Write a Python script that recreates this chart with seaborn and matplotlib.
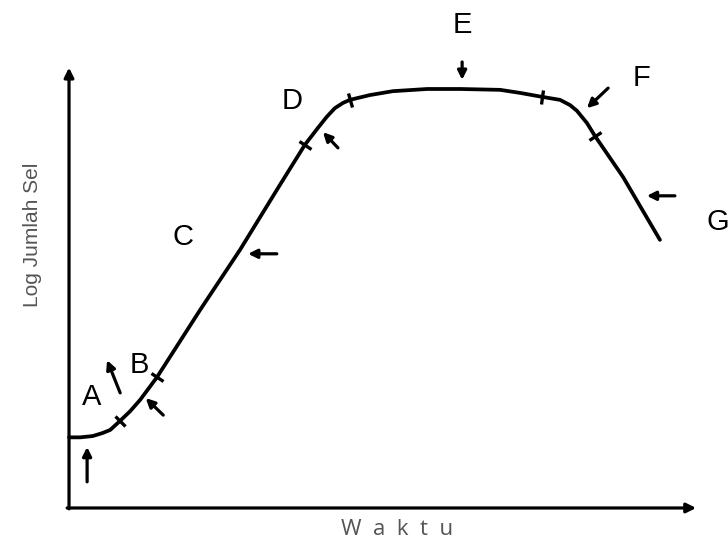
import numpy as np
import pandas as pd
import matplotlib
matplotlib.use("Agg")
import matplotlib.pyplot as plt
import seaborn as sns
from matplotlib.markers import MarkerStyle
from matplotlib.transforms import Affine2D

# ---- data (arbitrary units: time 0..10, log cell count 0..10) ----
waktu = [0.00, 0.18, 0.38, 0.54, 0.66, 0.82, 0.98, 1.14, 1.27, 1.41, 2.10, 2.74,
         3.38, 3.78, 3.99, 4.13, 4.26, 4.39, 4.50, 4.82, 5.19, 5.74, 6.27, 6.91,
         7.23, 7.58, 7.87, 8.03, 8.14, 8.30, 8.43, 8.88, 9.15, 9.47]
log_sel = [1.62, 1.62, 1.65, 1.72, 1.79, 2.00, 2.22, 2.48, 2.73, 3.00, 4.54, 5.92,
           7.41, 8.33, 8.72, 8.97, 9.17, 9.29, 9.36, 9.47, 9.56, 9.61, 9.61, 9.59,
           9.52, 9.43, 9.36, 9.24, 9.11, 8.83, 8.53, 7.59, 6.93, 6.15]
# indices of the points marked with small ticks on the curve
tick_idx = [5, 9, 13, 18, 25, 30]

phase_labels = ["A", "B", "C", "D", "E", "F", "G"]
label_x = [0.37, 1.12, 1.83, 3.57, 6.31, 9.17, 10.40]
label_y = [2.55, 3.28, 6.22, 9.33, 11.08, 9.86, 6.56]

# arrows: (tail_x, tail_y, head_x, head_y)
arrow_tail_x = [0.29, 0.82, 1.51, 3.33, 4.31, 6.30, 8.64, 9.71]
arrow_tail_y = [0.60, 2.64, 2.13, 5.83, 8.26, 10.23, 9.63, 7.16]
arrow_head_x = [0.29, 0.61, 1.23, 2.87, 4.07, 6.30, 8.30, 9.26]
arrow_head_y = [1.40, 3.39, 2.52, 5.83, 8.62, 9.82, 9.17, 7.16]

x_label = "W  a  k  t  u"
y_label = "Log Jumlah Sel"

df = pd.DataFrame({"Waktu": waktu, "LogSel": log_sel})

sns.set_style("white")
fig = plt.figure(figsize=(7.28, 5.45), dpi=100)
ax = fig.add_axes([0, 0, 1, 1])
ax.set_xlim(-1.106, 10.561)
ax.set_ylim(-0.849, 11.651)
ax.axis("off")

sns.lineplot(data=df, x="Waktu", y="LogSel", ax=ax, color="black", lw=2.7,
             sort=False, estimator=None, solid_capstyle="round", solid_joinstyle="round")

# axes with arrows
ax.annotate("", xy=(0, 10.1), xytext=(0, -0.02),
            arrowprops=dict(arrowstyle="-|>", color="black", lw=2.3, mutation_scale=14,
                            shrinkA=0, shrinkB=0))
ax.annotate("", xy=(10.05, 0), xytext=(-0.03, 0),
            arrowprops=dict(arrowstyle="-|>", color="black", lw=2.3, mutation_scale=14,
                            shrinkA=0, shrinkB=0))

# small perpendicular ticks on the curve
fig.canvas.draw()
disp = ax.transData.transform(np.column_stack([waktu, log_sel]))
for i in tick_idx:
    d = disp[i + 1] - disp[i - 1]
    ang = np.degrees(np.arctan2(d[1], d[0]))
    m = MarkerStyle("|", transform=Affine2D().rotate_deg(ang))
    ax.plot(waktu[i], log_sel[i], marker=m, color="black", markersize=10, mew=2.4)

# phase arrows
for tx, ty, hx, hy in zip(arrow_tail_x, arrow_tail_y, arrow_head_x, arrow_head_y):
    ax.annotate("", xy=(hx, hy), xytext=(tx, ty),
                arrowprops=dict(arrowstyle="-|>", color="black", lw=2.3, mutation_scale=13,
                                shrinkA=0, shrinkB=0))

# phase letters
for lab, lx, ly in zip(phase_labels, label_x, label_y):
    ax.text(lx, ly, lab, fontsize=21, family="Liberation Sans", ha="center", va="center",
            color="black", clip_on=False)

ax.text(-0.58, 6.26, y_label, rotation=90, fontsize=15, color="#555555",
        family=["Liberation Sans Narrow", "Liberation Sans"], ha="center", va="center")
ax.text(5.26, -0.50, x_label, fontsize=16, color="#555555", family="Open Sans",
        ha="center", va="center")

fig.savefig("out.png", dpi=100)
